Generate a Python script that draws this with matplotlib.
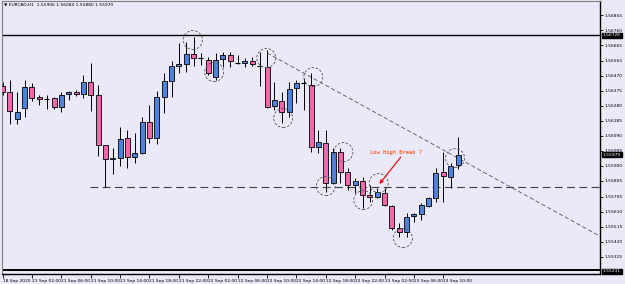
import matplotlib
matplotlib.use("Agg")
import matplotlib.pyplot as plt
from matplotlib.patches import Circle
from matplotlib.transforms import ScaledTranslation, blended_transform_factory

# EURCAD H1 candles
opens = [1.56405, 1.56367, 1.56196, 1.56266, 1.56399, 1.56336, 1.56323, 1.56329, 1.56272, 1.56355,
         1.56367, 1.56355, 1.56431, 1.56348, 1.56032, 1.55943, 1.55949, 1.56076, 1.55956, 1.55981,
         1.56177, 1.56076, 1.56336, 1.56437, 1.56532, 1.56545, 1.56608, 1.56583, 1.56570, 1.56462,
         1.56576, 1.56602, 1.56551, 1.56551, 1.56564, 1.56532, 1.56526, 1.56279, 1.56310, 1.56241,
         1.56393, 1.56424, 1.56412, 1.56019, 1.56044, 1.55791, 1.55987, 1.55861, 1.55778, 1.55804,
         1.55715, 1.55702, 1.55728, 1.55645, 1.55506, 1.55481, 1.55582, 1.55595, 1.55645, 1.55696,
         1.55861, 1.55829, 1.55906]
highs = [1.56431, 1.56443, 1.56367, 1.56443, 1.56424, 1.56348, 1.56348, 1.56336, 1.56367, 1.56374,
         1.56380, 1.56475, 1.56551, 1.56412, 1.56032, 1.56013, 1.56146, 1.56127, 1.56108, 1.56209,
         1.56285, 1.56374, 1.56488, 1.56564, 1.56678, 1.56684, 1.56715, 1.56614, 1.56589, 1.56614,
         1.56621, 1.56621, 1.56602, 1.56583, 1.56589, 1.56621, 1.56633, 1.56431, 1.56367, 1.56431,
         1.56443, 1.56456, 1.56488, 1.56127, 1.56127, 1.56013, 1.56013, 1.55886, 1.55823, 1.55829,
         1.55778, 1.55759, 1.55759, 1.55652, 1.55538, 1.55601, 1.55601, 1.55664, 1.55702, 1.55886,
         1.55987, 1.55918, 1.56084]
lows = [1.56348, 1.56165, 1.56165, 1.56209, 1.56310, 1.56285, 1.56260, 1.56260, 1.56241, 1.56317,
        1.56342, 1.56329, 1.56247, 1.55962, 1.55766, 1.55848, 1.55899, 1.55886, 1.55918, 1.55975,
        1.56044, 1.56038, 1.56234, 1.56336, 1.56488, 1.56494, 1.56532, 1.56538, 1.56475, 1.56443,
        1.56526, 1.56526, 1.56545, 1.56526, 1.56532, 1.56405, 1.56266, 1.56253, 1.56171, 1.56209,
        1.56298, 1.56253, 1.55987, 1.55981, 1.55734, 1.55785, 1.55791, 1.55747, 1.55728, 1.55633,
        1.55671, 1.55696, 1.55645, 1.55493, 1.55449, 1.55449, 1.55544, 1.55557, 1.55639, 1.55671,
        1.55671, 1.55759, 1.55880]
closes = [1.56367, 1.56247, 1.56241, 1.56399, 1.56329, 1.56323, 1.56323, 1.56272, 1.56348, 1.56367,
          1.56355, 1.56431, 1.56348, 1.56032, 1.55943, 1.55949, 1.56070, 1.55956, 1.55981, 1.56177,
          1.56076, 1.56336, 1.56437, 1.56532, 1.56545, 1.56608, 1.56583, 1.56583, 1.56488, 1.56570,
          1.56602, 1.56564, 1.56551, 1.56564, 1.56545, 1.56532, 1.56272, 1.56317, 1.56241, 1.56386,
          1.56424, 1.56424, 1.56019, 1.56051, 1.55791, 1.55987, 1.55861, 1.55778, 1.55804, 1.55715,
          1.55702, 1.55734, 1.55652, 1.55506, 1.55481, 1.55576, 1.55595, 1.55652, 1.55696, 1.55854,
          1.55835, 1.55899, 1.55970]

x_tick_pos = list(range(0, 61, 4))
x_tick_labels = ["18 Sep 2020", "21 Sep 02:00", "21 Sep 06:00", "21 Sep 10:00", "21 Sep 14:00",
                 "21 Sep 18:00", "21 Sep 22:00", "22 Sep 02:00", "22 Sep 06:00", "22 Sep 10:00",
                 "22 Sep 14:00", "22 Sep 18:00", "22 Sep 22:00", "23 Sep 02:00", "23 Sep 06:00",
                 "23 Sep 10:00"]
price_ticks = [1.56855, 1.56760, 1.56665, 1.56565, 1.56470, 1.56375, 1.56280, 1.56185, 1.56090,
               1.55995, 1.55900, 1.55805, 1.55705, 1.55610, 1.55515, 1.55420, 1.55325]

# drawn objects
top_line = 1.56726
bottom_line = 1.55240
support = 1.55766
support_start = 11.9
trend_start = (36, 1.56615)
trend_end = (81.5, 1.55450)
circle_x = [25.9, 28.8, 35.9, 38.2, 42.3, 44.0, 46.4, 49.1, 51.2, 54.5, 61.6]
circle_y = [1.56697, 1.56494, 1.56583, 1.56203, 1.56462, 1.55772, 1.55987, 1.55683, 1.55791, 1.55443, 1.55949]
last_price = 1.55970

bg = "#E9E9F7"
bull = "#4F81D8"
bear = "#F266AC"
fs = 3.2

fig = plt.figure(figsize=(6.25, 2.84), dpi=100, facecolor=bg)
ax = fig.add_axes([2 / 625, 10 / 284, 598 / 625, 273 / 284], facecolor=bg)
ax.set_xlim(-0.08, 81.33)
ax.set_ylim(1.55215, 1.56944)

for i in range(len(opens)):
    o, h, l, c = opens[i], highs[i], lows[i], closes[i]
    ax.vlines(i, l, h, color="black", lw=0.7, zorder=2)
    if o == c:
        ax.hlines(o, i - 0.34, i + 0.34, color="black", lw=0.8, zorder=3)
    else:
        col = bull if c > o else bear
        ax.bar(i, abs(c - o), bottom=min(o, c), width=0.68, color=col,
               edgecolor="black", linewidth=0.6, zorder=3)

ax.axhline(top_line, color="black", lw=1.0, zorder=1)
ax.axhline(bottom_line, color="black", lw=1.4, zorder=1)
ax.hlines(support, support_start, 82, color="#404040", lw=0.8, linestyles=(0, (7, 4)), zorder=1)
ax.plot([trend_start[0], trend_end[0]], [trend_start[1], trend_end[1]],
        color="#555555", lw=0.6, ls=(0, (5, 3)), zorder=1)

for cx, cy in zip(circle_x, circle_y):
    tr = fig.dpi_scale_trans + ScaledTranslation(cx, cy, ax.transData)
    ax.add_patch(Circle((0, 0), 0.095, transform=tr, fill=False, edgecolor="#555555",
                        lw=0.6, ls=(0, (3, 2)), zorder=4))

ax.text(50.0, 1.55987, "Low High Break ?", color="#FF6A3D", fontsize=4.0,
        family="DejaVu Sans Mono", fontweight="bold", va="center", ha="left")
ax.annotate("", xy=(51.3, 1.55785), xytext=(54.2, 1.55955),
            arrowprops=dict(arrowstyle="-|>", color="#EE1111", lw=0.9,
                            mutation_scale=5, shrinkA=0, shrinkB=0))

# axes styling
for side in ["top", "left"]:
    ax.spines[side].set_color("#808080")
    ax.spines[side].set_linewidth(0.8)
for side in ["right", "bottom"]:
    ax.spines[side].set_color("black")
    ax.spines[side].set_linewidth(1.0)

ax.yaxis.tick_right()
ax.set_yticks(price_ticks)
ax.set_yticklabels([f"{p:.5f}" for p in price_ticks])
ax.tick_params(axis="y", direction="out", length=2, width=0.6, pad=1.2, labelsize=fs, colors="black")

ax.set_xticks(x_tick_pos)
ax.set_xticklabels(x_tick_labels, ha="left")
ax.tick_params(axis="x", direction="out", length=3, width=0.6, pad=0.3, labelsize=fs, colors="black")

# price boxes on the axis
ytr = blended_transform_factory(ax.transAxes, ax.transData)
for p in [top_line, last_price, 1.55231]:
    ax.text(1.005, p, f"{p:.5f}", transform=ytr, fontsize=fs, color="white", ha="left", va="center",
            bbox=dict(boxstyle="square,pad=0.15", fc="black", ec="black"), zorder=6, clip_on=False)

fig.text(4 / 625, 1 - 5 / 284, "\u25bc EURCAD,H1  1.55906 1.56084 1.55880 1.55970",
         fontsize=fs, va="center", ha="left", color="black")

fig.savefig("out.png", dpi=100, facecolor=bg)
